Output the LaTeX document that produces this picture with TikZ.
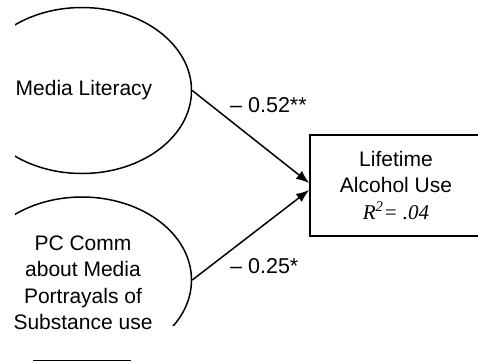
\documentclass[tikz,border=0pt]{standalone}
\usepackage{fontspec}
\setmainfont{Liberation Sans}
\newfontfamily\serifit{Liberation Serif}
\usetikzlibrary{shapes.geometric,arrows.meta}
\tikzset{
  latent/.style={ellipse,draw,line width=1.5pt,minimum width=219pt,minimum height=166pt,inner sep=0pt},
  obsbox/.style={rectangle,draw,line width=1.7pt,minimum width=172pt,minimum height=101pt,inner sep=0pt,align=center,font=\fontsize{21}{26.5}\selectfont},
  lbl/.style={font=\fontsize{21}{26.5}\selectfont,inner sep=0pt,align=center},
  coef/.style={font=\fontsize{21.5}{24}\selectfont,inner sep=0pt,anchor=base west},
  path/.style={line width=1.5pt,-{Latex[length=13pt,width=10pt]}}
}
\begin{document}
\begin{tikzpicture}[x=1pt,y=-1pt]
\useasboundingbox (0,0) rectangle (478,362);
\clip (0,0) rectangle (478,362);
\begin{scope}
  \clip (15,0) rectangle (478,325);
  \node[latent] (ml) at (82,90.5) {};
  \node[latent] (pc) at (82,280) {};
\end{scope}
\node[lbl] (mltext) at (84,90) {Media Literacy};
\node[lbl] (pctext) at (83,283) {PC Comm\\about Media\\Portrayals of\\Substance use};
\node[obsbox] (out) at (396,185.5) {Lifetime\\Alcohol Use\\{\serifit\itshape R\textsuperscript{2}= .04}};
\draw[path] (ml.east) -- ([yshift=2.5pt]out.west);
\draw[path] (pc.east) -- ([yshift=-4.5pt]out.west);
\node[coef] (c1) at (230,112) {– 0.52**};
\node[coef] (c2) at (230,273) {– 0.25*};
\coordinate (la) at (33,360.5);
\coordinate (lb) at (131,360.5);
\draw[line width=1.5pt] (la) -- (lb);
\end{tikzpicture}
\end{document}
